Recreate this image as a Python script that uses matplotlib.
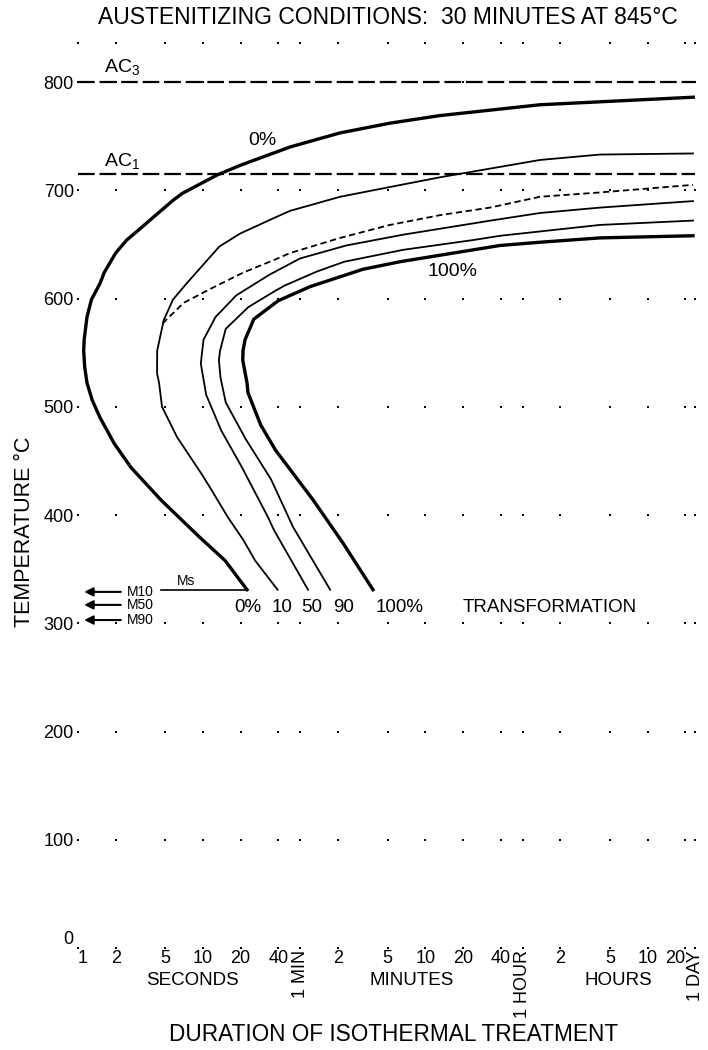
import matplotlib
matplotlib.use('Agg')
import matplotlib.pyplot as plt
from matplotlib.ticker import NullLocator

plt.rcParams['font.family'] = ['Liberation Sans', 'DejaVu Sans']
plt.rcParams['mathtext.default'] = 'regular'

t_0 = [22.5, 15.0, 9.3, 4.6, 2.65, 1.95, 1.50, 1.30, 1.18, 1.13, 1.11, 1.12, 1.18, 1.28,
       1.50, 1.62, 2.0, 2.45, 3.25, 3.9, 5.8, 6.8, 12.9, 19.8, 49.7, 125, 313, 787, 1977,
       4966, 84700]
T_0 = [331, 358, 380, 414, 444, 466, 490, 506, 522, 537, 552, 562, 583, 599,
       614, 624, 642, 654, 666, 674, 691, 697, 714, 723, 740, 753, 762, 769, 774,
       779, 786]

t_10 = [39.5, 26.1, 21.0, 15.8, 11.3, 9.6, 6.2, 4.70, 4.45, 4.29, 4.3, 4.85, 5.75, 7.4,
        13.5, 19.8, 38.0, 49.7, 125, 313, 787, 1977, 4966, 15000, 83200]
T_10 = [331, 358, 377, 398, 426, 439, 472, 500, 522, 531, 552, 580, 599, 614,
        648, 660, 675, 681, 694, 703, 712, 720, 728, 733, 734]

t_dash = [4.75, 7.0, 11.5, 21.0, 37.7, 49.7, 125, 313, 787, 1977, 4966, 15000, 83200]
T_dash = [577, 596, 609, 624, 636, 642, 656, 668, 677, 684, 694, 698, 705]

t_50 = [69.2, 37.0, 33.1, 20.5, 14.0, 10.6, 9.6, 10.1, 12.6, 18.5, 34.0, 59.7, 140,
        400, 2000, 4966, 15000, 83200]
T_50 = [331, 386, 398, 444, 478, 511, 540, 562, 583, 603, 622, 637, 649,
        659, 672, 679, 684, 690]

t_90 = [104, 52.5, 35.0, 22.0, 15.2, 13.8, 13.4, 13.7, 15.2, 23.0, 37.7, 45.0, 81.7,
        135, 400, 1445, 2400, 5000, 15000, 83200]
T_90 = [331, 389, 433, 470, 504, 527, 543, 552, 572, 592, 607, 612, 625,
        634, 645, 654, 658, 662, 668, 672]

t_100 = [229, 132, 75.9, 38.0, 29.0, 22.9, 22.5, 20.8, 20.9, 21.7, 25.5, 40.0,
         72.0, 190, 377, 787, 2377, 4966, 15000, 83200]
T_100 = [331, 374, 414, 460, 483, 513, 522, 543, 552, 562, 581, 598,
         611, 627, 634, 640, 649, 652, 656, 658]

AC3 = 800
AC1 = 715
Ms = 331
Ms_start = 4.6
M_temps = [329, 317, 303]
M_names = ['M10', 'M50', 'M90']

tick_times = [1, 2, 5, 10, 20, 40, 60, 120, 300, 600, 1200, 2400, 3600,
              7200, 18000, 36000, 72000, 86400]
tick_labels = ['1', '2', '5', '10', '20', '40', '1 MIN', '2', '5', '10', '20', '40',
               '1 HOUR', '2', '5', '10', '20', '1 DAY']
temp_ticks = [0, 100, 200, 300, 400, 500, 600, 700, 800]
grid_temps = temp_ticks + [836]

fig = plt.figure(figsize=(7.08, 10.5), dpi=100)
ax = fig.add_axes([0.1102, 0.0971, 0.8715, 0.8619])
ax.set_xscale('log')
ax.set_xlim(1, 86400)
ax.set_ylim(0, 836)
for s in ax.spines.values():
    s.set_visible(False)

# rejilla de puntos
gx = [t for t in tick_times for _ in grid_temps]
gy = [T for _ in tick_times for T in grid_temps]
ax.scatter(gx, gy, s=1.6, marker='s', color='black', linewidths=0, clip_on=False)

# líneas AC
ax.plot([1, 86400], [AC3, AC3], color='black', lw=1.6, dashes=(7.5, 2.2))
ax.plot([1, 86400], [AC1, AC1], color='black', lw=1.6, dashes=(7.5, 2.2))
ax.text(2.25, AC3 + 5, 'AC$_3$', fontsize=14, ha='center', va='bottom')
ax.text(2.25, AC1 + 3, 'AC$_1$', fontsize=14, ha='center', va='bottom')

# curvas de transformación
ax.plot(t_0, T_0, color='black', lw=2.4, solid_joinstyle='round')
ax.plot(t_10, T_10, color='black', lw=1.3, solid_joinstyle='round')
ax.plot(t_dash, T_dash, color='black', lw=1.3, dashes=(3.5, 2))
ax.plot(t_50, T_50, color='black', lw=1.3, solid_joinstyle='round')
ax.plot(t_90, T_90, color='black', lw=1.3, solid_joinstyle='round')
ax.plot(t_100, T_100, color='black', lw=2.4, solid_joinstyle='round')

# Ms y flechas M10/M50/M90
ax.plot([Ms_start, t_0[0]], [Ms, Ms], color='black', lw=1.2)
ax.text(7.3, Ms + 2, 'Ms', fontsize=10, ha='center', va='bottom')
for T, name in zip(M_temps, M_names):
    ax.annotate('', xy=(1.12, T), xytext=(2.2, T),
                arrowprops=dict(arrowstyle='-|>', color='black', lw=1.5,
                                mutation_scale=13, shrinkA=0, shrinkB=0))
    ax.text(2.45, T, name, fontsize=10, ha='left', va='center')

# etiquetas de las curvas
ax.text(29.6, 746, '0%', fontsize=14, ha='center', va='center')
ax.text(982, 625, '100%', fontsize=14, ha='center', va='center')
for t, lbl in zip([22.9, 42.9, 74.5, 134, 377, 5970],
                  ['0%', '10', '50', '90', '100%', 'TRANSFORMATION']):
    ax.text(t, 315, lbl, fontsize=13.5, ha='center', va='center')

# ejes
ax.set_xticks(tick_times)
ax.set_xticklabels(tick_labels, fontsize=13)
ax.xaxis.set_minor_locator(NullLocator())
xlabels = ax.get_xticklabels()
for lbl in xlabels:
    if lbl.get_text() in ('1 MIN', '1 HOUR', '1 DAY'):
        lbl.set_rotation(90)
xlabels[0].set_ha('left')
xlabels[16].set_ha('right')
ax.set_yticks(temp_ticks)
ax.set_yticklabels([str(v) for v in temp_ticks], fontsize=13)
ax.get_yticklabels()[0].set_va('bottom')
ax.tick_params(axis='both', length=0)
ax.tick_params(axis='x', pad=1.5)
ax.tick_params(axis='y', pad=3)

xt = ax.get_xaxis_transform()
ax.text(8.17, -0.0354, 'SECONDS', transform=xt, fontsize=13.5, ha='center', va='center')
ax.text(470, -0.0354, 'MINUTES', transform=xt, fontsize=13.5, ha='center', va='center')
ax.text(20900, -0.0354, 'HOURS', transform=xt, fontsize=13.5, ha='center', va='center')

fig.text(0.556, 0.0143, 'DURATION OF ISOTHERMAL TREATMENT', fontsize=16.3, ha='center', va='center')
fig.text(0.0353, 0.4933, 'TEMPERATURE °C', fontsize=15.5, rotation=90, ha='center', va='center')
fig.text(0.548, 0.983, 'AUSTENITIZING CONDITIONS:  30 MINUTES AT 845°C', fontsize=16.5,
         ha='center', va='center')

fig.savefig('out.png', dpi=100, facecolor='white')
